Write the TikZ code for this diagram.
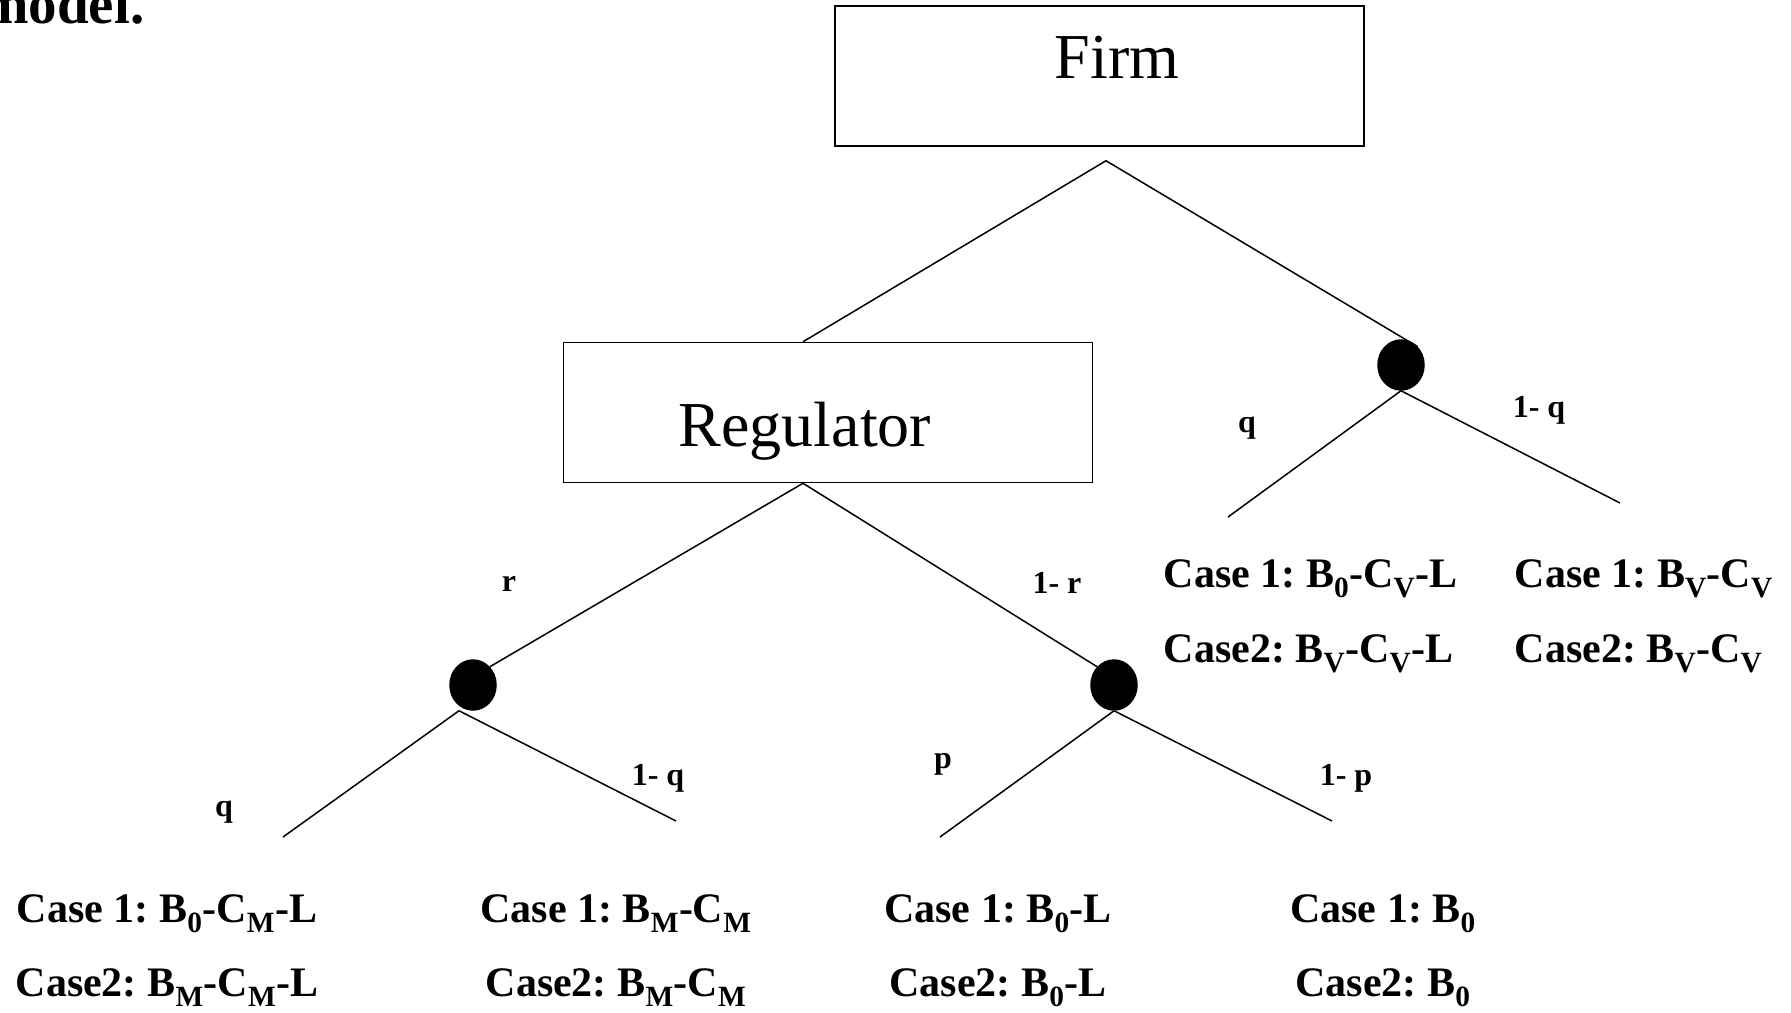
\documentclass[tikz,border=0pt]{standalone}
\usepackage{fontspec}
\setmainfont{Liberation Serif}
\usepackage{tikz}
\usetikzlibrary{shapes.geometric}
\frenchspacing

\begin{document}
\begin{tikzpicture}[x=1pt, y=-1pt, line width=1.5pt,
	player/.style={draw, rectangle, minimum width=529pt, minimum height=140pt, inner sep=0pt},
	bigtxt/.style={font=\fontsize{64}{74}\selectfont, inner sep=0pt, anchor=base},
	chance/.style={draw, fill, ellipse, minimum width=46pt, minimum height=50pt, inner sep=0pt},
	prob/.style={font=\bfseries\fontsize{32}{38}\selectfont, inner sep=0pt, anchor=base},
	payoff/.style={font=\bfseries\fontsize{42}{50}\selectfont, inner sep=0pt, anchor=base}]
				\useasboundingbox (0, 0) rectangle (1791, 1012);
				\node[anchor=base east, inner sep=0pt, font=\bfseries\fontsize{57}{66}\selectfont] (title) at (145, 23) {model.};
				\node[player] (firm) at (1099.5, 76) {};
				\node[bigtxt] (firmtxt) at (1117, 78) {Firm};
				\node[player] (reg) at (828, 412.5) {};
				\node[bigtxt] (regtxt) at (805, 446) {Regulator};
				\node[chance] (natR) at (1401, 365) {};
				\node[chance] (natL) at (473, 685) {};
				\node[chance] (natM) at (1114, 685) {};
				\coordinate (firmfork) at ([xshift=6.5pt, yshift=-14pt]firm.south);
				\coordinate (regtop) at ([xshift=-25pt]reg.north);
				\coordinate (regfork) at ([xshift=-25pt]reg.south);
				\coordinate (endLq) at (283, 837);
				\coordinate (endLnq) at (676, 821);
				\coordinate (endMp) at (940, 837);
				\coordinate (endMnp) at (1332, 821);
				\coordinate (endRq) at (1228, 517);
				\coordinate (endRnq) at (1620, 503);
				\draw (firmfork) -- (regtop);
				\draw (firmfork) -- (natR.north east);
				\draw (natR.south) -- (endRq);
				\draw (natR.south) -- (endRnq);
				\draw (regfork) -- (natL.north east);
				\draw (regfork) -- (natM.north west);
				\draw ([xshift=-14pt]natL.south) -- (endLq);
				\draw ([xshift=-14pt]natL.south) -- (endLnq);
				\draw (natM.south) -- (endMp);
				\draw (natM.south) -- (endMnp);
				\node[prob] (pRq) at (1247, 432) {q};
				\node[prob] (pRnq) at (1539, 417) {1- q};
				\node[prob] (pr) at (509, 591) {r};
				\node[prob] (pnr) at (1057, 593) {1- r};
				\node[prob] (pLq) at (224, 816) {q};
				\node[prob] (pLnq) at (658, 785) {1- q};
				\node[prob] (pp) at (943, 768) {p};
				\node[prob] (pnp) at (1346, 785) {1- p};
				\node[payoff] (c1a) at (167, 922) {Case 1: B\textsubscript{0}-C\textsubscript{M}-L};
				\node[payoff] (c2a) at (167, 996) {Case2: B\textsubscript{M}-C\textsubscript{M}-L};
				\node[payoff] (c1b) at (616, 922) {Case 1: B\textsubscript{M}-C\textsubscript{M}};
				\node[payoff] (c2b) at (616, 996) {Case2: B\textsubscript{M}-C\textsubscript{M}};
				\node[payoff] (c1c) at (998, 922) {Case 1: B\textsubscript{0}-L};
				\node[payoff] (c2c) at (998, 996) {Case2: B\textsubscript{0}-L};
				\node[payoff] (c1d) at (1383, 922) {Case 1: B\textsubscript{0}};
				\node[payoff] (c2d) at (1383, 996) {Case2: B\textsubscript{0}};
				\node[payoff, anchor=base west] (c1e) at (1163, 587) {Case 1: B\textsubscript{0}-C\textsubscript{V}-L};
				\node[payoff, anchor=base west] (c2e) at (1163, 662) {Case2: B\textsubscript{V}-C\textsubscript{V}-L};
				\node[payoff, anchor=base west] (c1f) at (1514, 587) {Case 1: B\textsubscript{V}-C\textsubscript{V}};
				\node[payoff, anchor=base west] (c2f) at (1514, 662) {Case2: B\textsubscript{V}-C\textsubscript{V}};
			\end{tikzpicture}
\end{document}
